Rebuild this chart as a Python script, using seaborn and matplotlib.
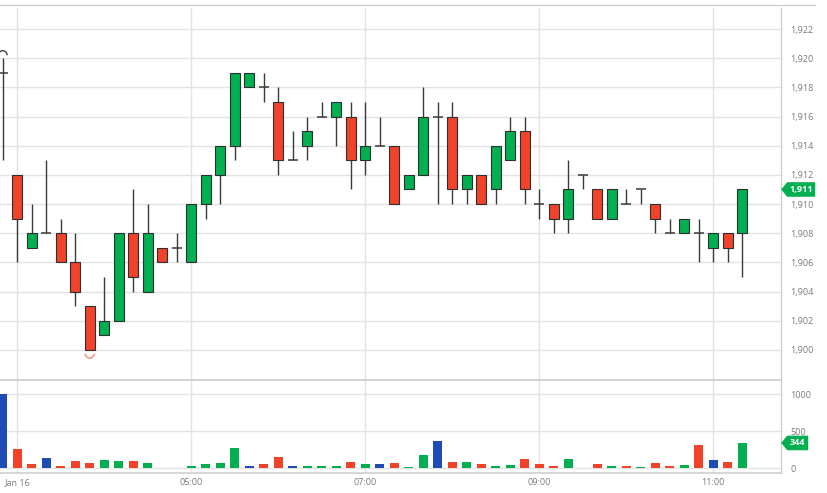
import numpy as np
import pandas as pd
import matplotlib
matplotlib.use("Agg")
import matplotlib.pyplot as plt
import seaborn as sns
from matplotlib.patches import Arc, Polygon
from matplotlib.lines import Line2D
from matplotlib.ticker import FuncFormatter, FixedLocator

# ---------------- data ----------------
opens = [1919, 1912, 1907, 1908, 1908, 1906, 1903, 1901, 1902, 1908,
         1904, 1907, 1907, 1906, 1910, 1912, 1914, 1918, 1918, 1917,
         1913, 1914, 1916, 1916, 1916, 1913, 1914, 1914, 1911, 1912,
         1916, 1916, 1911, 1912, 1911, 1913, 1915, 1910, 1910, 1909,
         1912, 1911, 1909, 1910, 1911, 1910, 1908, 1908, 1908, 1907,
         1908, 1908]
highs = [1920, 1912, 1910, 1913, 1909, 1908, 1903, 1905, 1908, 1911,
         1910, 1907, 1908, 1910, 1912, 1914, 1919, 1919, 1919, 1918,
         1915, 1916, 1917, 1917, 1917, 1917, 1916, 1914, 1912, 1918,
         1917, 1917, 1912, 1912, 1914, 1916, 1916, 1911, 1910, 1913,
         1912, 1911, 1911, 1911, 1911, 1910, 1909, 1909, 1909, 1908,
         1908, 1911]
lows = [1913, 1906, 1907, 1908, 1906, 1903, 1900, 1901, 1902, 1904,
        1904, 1906, 1906, 1906, 1909, 1910, 1913, 1918, 1917, 1912,
        1913, 1913, 1916, 1914, 1911, 1912, 1914, 1910, 1911, 1912,
        1910, 1910, 1910, 1910, 1910, 1913, 1910, 1909, 1908, 1908,
        1911, 1909, 1909, 1910, 1910, 1908, 1908, 1908, 1906, 1906,
        1906, 1905]
closes = [1919, 1909, 1908, 1908, 1906, 1904, 1900, 1902, 1908, 1905,
          1908, 1906, 1907, 1910, 1912, 1914, 1919, 1919, 1918, 1913,
          1913, 1915, 1916, 1917, 1913, 1914, 1914, 1910, 1912, 1916,
          1916, 1911, 1912, 1910, 1914, 1915, 1911, 1910, 1909, 1911,
          1912, 1909, 1911, 1910, 1911, 1909, 1908, 1909, 1908, 1908,
          1907, 1911]
volumes = [1005, 268, 67, 138, 40, 103, 71, 116, 103, 107,
           80, 13, 13, 36, 54, 80, 281, 40, 54, 161,
           27, 27, 36, 36, 89, 67, 62, 71, 22, 179,
           371, 94, 85, 62, 40, 45, 125, 58, 31, 129,
           9, 67, 36, 31, 22, 71, 36, 49, 317, 112,
           89, 344]
time_tick_pos = [1, 13, 25, 37, 49]
time_tick_labels = ["Jan 16", "05:00", "07:00", "09:00", "11:00"]
price_ticks = list(range(1900, 1923, 2))
volume_ticks = [0, 500, 1000]

# ---------------- style ----------------
GREEN = "#00b050"
RED = "#f0432a"
BLUE = "#1f4bb4"
GRID = "#e3e3e3"
AXIS = "#cfcfcf"
TEXT = "#7a7a7a"
EDGE = "#2e2e2e"

sns.set_theme(style="white")
plt.rcParams["font.family"] = ["Open Sans", "DejaVu Sans"]

W, H = 827, 493
fig = plt.figure(figsize=(W / 100, H / 100), dpi=100)
fig.patch.set_facecolor("white")

def fr(x0, y0, x1, y1):
    return [x0 / W, 1 - y1 / H, (x1 - x0) / W, (y1 - y0) / H]

ax = fig.add_axes(fr(0, 8, 780.7, 380))
axv = fig.add_axes(fr(0, 380, 780.7, 472.7), sharex=ax)

n = len(opens)
idx = np.arange(n)
df = pd.DataFrame({"i": idx, "open": opens, "high": highs, "low": lows,
                   "close": closes, "volume": volumes})

# ---------------- candles ----------------
body_w = 0.67
ax.vlines(df["i"], df["low"], df["high"], color="#3a3a3a", lw=1.0, zorder=3)
up = df[df["close"] > df["open"]]
dn = df[df["close"] < df["open"]]
dj = df[df["close"] == df["open"]]
ax.bar(up["i"], up["close"] - up["open"], bottom=up["open"], width=body_w,
       color=GREEN, edgecolor=EDGE, linewidth=0.8, zorder=4)
ax.bar(dn["i"], dn["open"] - dn["close"], bottom=dn["close"], width=body_w,
       color=RED, edgecolor=EDGE, linewidth=0.8, zorder=4)
ax.hlines(dj["open"], dj["i"] - body_w / 2, dj["i"] + body_w / 2,
          color="#3a3a3a", lw=1.1, zorder=4)

ax.set_xlim(-0.186, 53.65)
ax.set_ylim(1897.94, 1923.44)

# high / low markers
px_x = 14.5
px_y = 14.59
ih = int(np.argmax(highs))
il = int(np.argmin(lows))
ax.add_patch(Arc((ih, highs[ih] + 0.2), 2 * 4.5 / px_x, 2 * 4.5 / px_y,
                 theta1=0, theta2=180, color="#444444", lw=1.0, zorder=5))
ax.add_patch(Arc((il, lows[il] - 0.25), 2 * 4.5 / px_x, 2 * 4.5 / px_y,
                 theta1=180, theta2=360, color="#f58a78", lw=1.0, zorder=5))

# ---------------- volume ----------------
prev = [None] + closes[:-1]
dirs = []
for c, p in zip(closes, prev):
    if p is None or c == p:
        dirs.append("flat")
    elif c > p:
        dirs.append("up")
    else:
        dirs.append("down")
df["dir"] = dirs
sns.barplot(data=df, x="i", y="volume", hue="dir",
            palette={"up": GREEN, "down": RED, "flat": BLUE},
            native_scale=True, dodge=False, width=0.64, errorbar=None,
            legend=False, linewidth=0, saturation=1, ax=axv, zorder=3)
axv.set_ylim(-57, 1193)
axv.set_xlim(-0.186, 53.65)

# ---------------- axes cosmetics ----------------
for a in (ax, axv):
    a.set_facecolor("white")
    a.yaxis.tick_right()
    a.set_xlabel("")
    a.set_ylabel("")
    for s in ("left", "top"):
        a.spines[s].set_visible(False)
    a.spines["right"].set_color(AXIS)
    a.spines["right"].set_linewidth(1.0)
    a.xaxis.set_major_locator(FixedLocator(time_tick_pos))
    a.grid(True, color=GRID, lw=1.0, zorder=0)
    a.set_axisbelow(True)
    a.tick_params(length=0, colors=TEXT, labelsize=6.5)

ax.spines["bottom"].set_color(AXIS)
ax.spines["bottom"].set_linewidth(1.2)
axv.spines["top"].set_visible(True)
axv.spines["top"].set_color(AXIS)
axv.spines["top"].set_linewidth(1.2)
axv.spines["bottom"].set_color(AXIS)
axv.spines["bottom"].set_linewidth(1.2)

ax.set_yticks(price_ticks)
ax.yaxis.set_major_formatter(FuncFormatter(lambda v, p: f"{int(round(v)):,}"))
ax.tick_params(axis="y", pad=7)
ax.tick_params(axis="x", labelbottom=False)

axv.set_yticks(volume_ticks)
axv.yaxis.set_major_formatter(FuncFormatter(lambda v, p: f"{int(round(v))}"))
axv.tick_params(axis="y", pad=7)
axv.set_xticks(time_tick_pos)
axv.set_xticklabels(time_tick_labels)
axv.tick_params(axis="x", pad=4)

# top line
fig.add_artist(Line2D([0, 815 / W], [1 - 4.5 / H, 1 - 4.5 / H],
                      transform=fig.transFigure, color=AXIS, lw=1.0))

# ---------------- last value tags ----------------
fig.canvas.draw()

def tag(a, value, text, body_len):
    xd, yd = a.transData.transform((a.get_xlim()[1], value))
    x0 = xd + 0.5
    hh = 7.3
    pts = [(x0, yd), (x0 + 6, yd + hh), (x0 + body_len, yd + hh),
           (x0 + body_len, yd - hh), (x0 + 6, yd - hh)]
    fig.add_artist(Polygon(pts, closed=True, transform=None,
                           facecolor=GREEN, edgecolor="none", zorder=10))
    fig.text((x0 + 3 + body_len / 2) / W, yd / H, text, color="white",
             fontsize=6.6, fontweight="bold", ha="center", va="center",
             zorder=11)

tag(ax, closes[-1], f"{closes[-1]:,}", 34)
tag(axv, volumes[-1], f"{volumes[-1]}", 27)

fig.savefig("out.png", dpi=100, facecolor="white")
